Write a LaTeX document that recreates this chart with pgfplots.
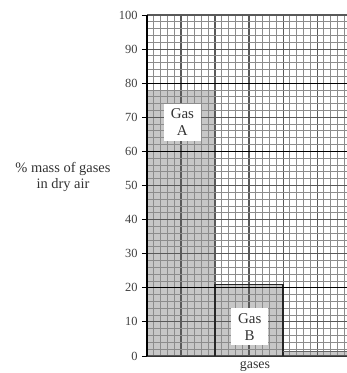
\documentclass[border=0pt]{standalone}
\usepackage{pgfplots}
\pgfplotsset{compat=1.18}
\usepackage{fontspec}
\setmainfont{Liberation Serif}
\begin{document}
\begin{tikzpicture}
\useasboundingbox (-147bp,-17bp) rectangle (200bp,356bp);
\begin{axis}[
  scale only axis,
  width=200bp, height=341bp,
  xmin=0, xmax=29.4, ymin=0, ymax=100,
  axis on top,
  axis x line*=bottom, axis y line*=left,
  x axis line style={black!80, line width=1bp, -},
  y axis line style={black, line width=1.8bp, -},
  xtick={0,5,...,25}, xticklabels={},
  minor xtick={1,2,3,4,6,7,8,9,11,12,13,14,16,17,18,19,21,22,23,24,26,27,28,29},
  ytick={0,10,...,100},
  minor ytick={2,4,6,8,12,14,16,18,22,24,26,28,32,34,36,38,42,44,46,48,52,54,56,58,62,64,66,68,72,74,76,78,82,84,86,88,92,94,96,98},
  grid=both,
  major grid style={black!65, line width=1.1bp},
  minor grid style={black!45, line width=0.9bp},
  x tick style={draw=none},
  y tick style={black, line width=0.8bp},
  ytick pos=left,
  tick align=outside,
  major tick length=5bp,
  minor tick length=0pt,
  yticklabel style={font=\fontsize{12.5}{14}\selectfont, text=black!75, xshift=-1bp},
  /pgf/number format/assume math mode=true,
]
\addplot[fill=black!22, draw=none] coordinates {(0,0) (0,78) (10,78) (10,0)} -- cycle;
\addplot[fill=black!22, draw=none] coordinates {(10,0) (10,21) (20,21) (20,0)} -- cycle;
\addplot[fill=black!22, draw=none] coordinates {(20,0) (20,1.2) (29.4,1.2) (29.4,0)} -- cycle;
\end{axis}
\begin{axis}[
  scale only axis,
  width=200bp, height=341bp,
  xmin=0, xmax=29.4, ymin=0, ymax=100,
  hide axis, clip=false,
]
\addplot[draw=black!85, line width=1.3bp] coordinates {(10,0) (10,21) (20,21) (20,0)};
\addplot[draw=black!60, line width=0.9bp] coordinates {(20,1.2) (29.4,1.2)};
\draw[black, line width=1.2bp] (axis cs:0,80) -- (axis cs:29.4,80);
\draw[black, line width=1.2bp] (axis cs:0,60) -- (axis cs:29.4,60);
\draw[black, line width=1.2bp] (axis cs:0,20) -- (axis cs:29.4,20);
\node[fill=white, inner sep=0pt, minimum width=37bp, minimum height=37bp, align=center, font=\fontsize{15}{17}\selectfont, text=black!80] at (axis cs:5.2,68.6) {Gas\\A};
\node[fill=white, inner sep=0pt, minimum width=37bp, minimum height=37bp, align=center, font=\fontsize{15}{17}\selectfont, text=black!80] at (axis cs:15.1,8.6) {Gas\\B};
\node[align=center, font=\fontsize{14.5}{15.5}\selectfont, text=black!80] at (axis description cs:-0.42,0.525) {\% mass of gases\\in dry air};
\node[font=\fontsize{14}{15.5}\selectfont, text=black!80] at (axis description cs:0.54,0) [yshift=-10bp] {gases};
\end{axis}
\end{tikzpicture}
\end{document}
